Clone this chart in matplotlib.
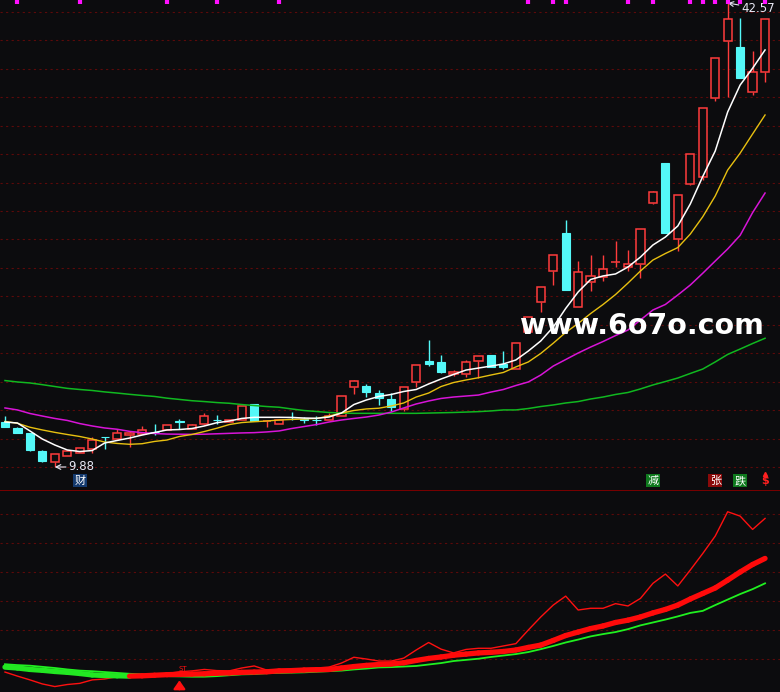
import numpy as np
import matplotlib
matplotlib.use("Agg")
import matplotlib.pyplot as plt
import matplotlib.transforms as mtransforms
from matplotlib.collections import LineCollection

plt.rcParams['font.family'] = ['DejaVu Sans', 'Noto Sans CJK SC']

# ---------------- data ----------------
open_ = [13.07, 12.61, 12.25, 11.01, 10.21, 10.68, 10.89, 11.15, 11.99, 11.85,
         12.13, 12.20, 12.38, 12.49, 13.10, 12.56, 12.89, 13.20, 13.05, 13.19,
         14.32, 13.12, 12.91, 13.39, 13.24, 13.19, 13.19, 13.47, 15.50, 15.59,
         15.07, 14.67, 13.97, 15.85, 17.35, 17.26, 16.43, 16.41, 17.37, 17.77,
         17.14, 16.78, 19.39, 21.48, 23.69, 26.39, 21.17, 22.89, 23.29, 24.30,
         23.95, 24.16, 28.46, 31.28, 25.92, 29.80, 30.33, 35.86, 39.91, 39.45,
         36.32, 37.69]
high = [13.47, 12.68, 12.30, 11.08, 10.78, 11.05, 11.22, 11.97, 11.99, 12.54,
        12.44, 12.77, 12.89, 12.85, 13.24, 12.88, 13.66, 13.54, 13.20, 14.20,
        14.34, 13.16, 13.22, 13.78, 13.40, 13.47, 13.71, 14.90, 16.01, 15.73,
        15.30, 15.07, 15.52, 17.06, 18.83, 17.77, 16.71, 17.42, 17.70, 17.79,
        18.05, 18.60, 20.45, 22.56, 24.84, 27.28, 24.39, 24.82, 24.82, 25.80,
        25.17, 26.65, 29.29, 31.30, 29.06, 31.95, 35.17, 38.69, 42.57, 41.49,
        39.19, 41.44]
low = [12.70, 12.25, 11.03, 10.25, 9.88, 10.66, 10.87, 10.89, 11.13, 11.83,
       11.31, 12.20, 12.13, 12.47, 12.56, 12.54, 12.87, 12.91, 13.04, 13.17,
       13.12, 12.72, 12.89, 13.19, 12.98, 12.84, 13.17, 13.45, 15.00, 14.83,
       14.25, 13.85, 13.85, 15.54, 17.02, 16.48, 16.31, 16.20, 16.17, 16.90,
       16.76, 16.76, 19.30, 20.82, 22.70, 22.33, 21.15, 22.28, 23.00, 23.99,
       23.69, 23.22, 28.44, 26.37, 25.12, 29.78, 30.10, 35.69, 35.97, 37.29,
       36.09, 37.02]
close = [12.72, 12.30, 11.08, 10.32, 10.78, 11.01, 11.20, 11.78, 11.96, 12.30,
         12.30, 12.49, 12.36, 12.82, 13.08, 12.84, 13.47, 13.19, 13.19, 14.18,
         13.14, 13.15, 13.19, 13.38, 13.22, 13.18, 13.47, 14.88, 15.94, 15.19,
         14.72, 14.13, 15.50, 17.04, 17.14, 16.59, 16.59, 17.26, 17.68, 16.95,
         16.93, 18.59, 20.43, 22.54, 24.82, 22.35, 23.62, 23.36, 23.81, 24.32,
         24.16, 26.63, 29.27, 26.39, 29.04, 31.93, 35.15, 38.67, 41.42, 37.31,
         37.69, 41.42]

ma_white = [13.05, 12.98, 12.42, 11.85, 11.43, 11.08, 10.97, 11.04, 11.57, 11.75,
            11.92, 12.13, 12.31, 12.49, 12.52, 12.59, 12.77, 13.00, 13.12, 13.30,
            13.38, 13.38, 13.38, 13.37, 13.33, 13.31, 13.40, 13.68, 14.28, 14.60,
            14.85, 14.99, 15.20, 15.34, 15.73, 16.08, 16.40, 16.71, 16.85, 16.99,
            17.14, 17.42, 18.05, 18.76, 19.74, 21.05, 22.21, 23.09, 23.34, 23.48,
            23.97, 24.67, 25.52, 26.08, 26.86, 28.41, 30.35, 32.14, 34.89, 36.79,
            37.97, 39.26]
ma_yellow = [13.09, 12.96, 12.68, 12.49, 12.32, 12.17, 12.03, 11.85, 11.64, 11.54,
             11.48, 11.52, 11.68, 11.78, 12.03, 12.17, 12.38, 12.61, 12.87, 13.01,
             13.07, 13.12, 13.19, 13.23, 13.26, 13.30, 13.47, 13.68, 13.86, 13.97,
             14.02, 14.18, 14.39, 14.81, 15.09, 15.55, 15.83, 16.01, 16.17, 16.36,
             16.54, 16.93, 17.28, 17.88, 18.60, 19.36, 19.99, 20.69, 21.33, 22.03,
             22.84, 23.69, 24.46, 24.92, 25.34, 26.29, 27.51, 28.97, 30.80, 31.99,
             33.34, 34.68]
ma_magenta = [14.04, 13.90, 13.65, 13.47, 13.30, 13.16, 12.94, 12.77, 12.63, 12.54,
              12.39, 12.30, 12.24, 12.20, 12.19, 12.18, 12.19, 12.22, 12.25, 12.28,
              12.30, 12.35, 12.42, 12.59, 12.73, 12.87, 13.05, 13.19, 13.30, 13.40,
              13.54, 13.75, 14.04, 14.32, 14.53, 14.71, 14.81, 14.88, 14.95, 15.16,
              15.34, 15.62, 15.87, 16.36, 16.99, 17.45, 17.91, 18.33, 18.72, 19.14,
              19.53, 20.24, 20.94, 21.33, 22.00, 22.70, 23.53, 24.39, 25.24, 26.20,
              27.80, 29.18]
ma_green = [15.97, 15.87, 15.80, 15.68, 15.55, 15.42, 15.34, 15.27, 15.17, 15.09,
            15.00, 14.92, 14.85, 14.73, 14.64, 14.55, 14.49, 14.42, 14.37, 14.28,
            14.21, 14.14, 14.09, 13.97, 13.86, 13.79, 13.72, 13.68, 13.66, 13.66,
            13.66, 13.66, 13.66, 13.66, 13.68, 13.70, 13.72, 13.75, 13.78, 13.83,
            13.90, 13.90, 14.00, 14.14, 14.25, 14.39, 14.49, 14.67, 14.81, 14.99,
            15.13, 15.38, 15.66, 15.90, 16.15, 16.47, 16.78, 17.28, 17.81, 18.19,
            18.58, 18.95]

ind_fast = [0.55, 0.41, 0.28, 0.14, 0.05, 0.12, 0.16, 0.28, 0.31, 0.39,
            0.41, 0.46, 0.48, 0.50, 0.56, 0.59, 0.64, 0.60, 0.59, 0.69,
            0.76, 0.62, 0.64, 0.64, 0.67, 0.69, 0.72, 0.86, 1.06, 1.00,
            0.93, 0.93, 1.03, 1.31, 1.57, 1.34, 1.21, 1.33, 1.37, 1.37,
            1.45, 1.53, 2.00, 2.45, 2.86, 3.17, 2.69, 2.75, 2.75, 2.91,
            2.83, 3.09, 3.61, 3.93, 3.52, 4.07, 4.64, 5.24, 6.08, 5.93,
            5.47, 5.85]
ind_mid = [0.72, 0.69, 0.64, 0.61, 0.57, 0.54, 0.50, 0.45, 0.43, 0.42,
           0.41, 0.42, 0.44, 0.46, 0.47, 0.48, 0.49, 0.51, 0.52, 0.54,
           0.55, 0.56, 0.59, 0.60, 0.62, 0.63, 0.64, 0.69, 0.74, 0.78,
           0.81, 0.83, 0.87, 0.95, 1.02, 1.07, 1.13, 1.17, 1.21, 1.23,
           1.26, 1.31, 1.40, 1.48, 1.64, 1.81, 1.93, 2.05, 2.14, 2.26,
           2.34, 2.45, 2.59, 2.71, 2.86, 3.07, 3.26, 3.45, 3.72, 4.00,
           4.26, 4.47]
ind_slow = [0.82, 0.79, 0.77, 0.73, 0.69, 0.64, 0.60, 0.58, 0.55, 0.52,
            0.49, 0.47, 0.44, 0.41, 0.40, 0.39, 0.39, 0.41, 0.44, 0.47,
            0.48, 0.51, 0.52, 0.53, 0.54, 0.56, 0.58, 0.60, 0.64, 0.67,
            0.71, 0.72, 0.74, 0.76, 0.81, 0.86, 0.93, 0.97, 1.01, 1.07,
            1.12, 1.17, 1.24, 1.34, 1.45, 1.57, 1.67, 1.78, 1.86, 1.93,
            2.03, 2.16, 2.26, 2.36, 2.47, 2.59, 2.66, 2.86, 3.05, 3.24,
            3.41, 3.61]

top_marks = [1, 6, 13, 17, 22, 42, 44, 45, 50, 52, 55, 56, 57, 58, 59, 61]
low_idx, low_val = 4, 9.88
high_idx, high_val = 58, 42.57
buy_signal_idx = 14
tags = [(6, '财', '#143a6e', 'white'), (52, '减', '#0f7a1e', 'white'),
        (57, '张', '#8a0a0a', 'white'), (59, '跌', '#0f7a1e', 'white')]

# ---------------- style ----------------
BG = '#0c0c0e'
RED = '#ff3c3c'
CYAN = '#54f8f8'
GRID = '#5c0a0a'

W, H = 780, 692
fig = plt.figure(figsize=(W / 100, H / 100), dpi=100, facecolor=BG)
ax = fig.add_axes([0, 203 / H, 1, 489 / H], facecolor=BG)
ax2 = fig.add_axes([0, 0, 1, 202 / H], facecolor=BG)

for a in (ax, ax2):
    for s in a.spines.values():
        s.set_visible(False)
    a.set_xticks([])
    a.set_yticks([])
    a.set_xlim(-0.40, 62.2)

ax.set_ylim(8.33, 42.78)
ax2.set_ylim(-0.138, 6.83)

# grid
for g in np.linspace(9.88, 41.94, 17):
    ax.axhline(g, color=GRID, lw=0.8, ls=(0, (2, 3)), zorder=0)
for g in range(1, 7):
    ax2.axhline(g, color=GRID, lw=0.8, ls=(0, (2, 3)), zorder=0)
ax2.axhline(6.83, color='#7a0000', lw=1.4, zorder=1)

# ---------------- candles ----------------
x = np.arange(len(open_))
o = np.array(open_); c = np.array(close); hi = np.array(high); lo = np.array(low)
up = c >= o
body_lo = np.minimum(o, c)
body_hi = np.maximum(o, c)
colors = np.where(up, RED, CYAN)
ax.vlines(x, body_hi, hi, colors=colors, lw=1.0, zorder=2)
ax.vlines(x, lo, body_lo, colors=colors, lw=1.0, zorder=2)
ax.bar(x[up], (body_hi - body_lo)[up], bottom=body_lo[up], width=0.66,
       facecolor=BG, edgecolor=RED, linewidth=1.1, zorder=3)
ax.bar(x[~up], (body_hi - body_lo)[~up], bottom=body_lo[~up], width=0.66,
       facecolor=CYAN, edgecolor=CYAN, linewidth=0.8, zorder=3)

# moving averages
ax.plot(x, ma_green, color='#10b820', lw=1.1, zorder=4)
ax.plot(x, ma_magenta, color='#d814d8', lw=1.1, zorder=4)
ax.plot(x, ma_yellow, color='#e8c010', lw=1.0, zorder=4)
ax.plot(x, ma_white, color='#ffffff', lw=1.1, zorder=4)

# top magenta marks
tb = mtransforms.blended_transform_factory(ax.transData, ax.transAxes)
for m in top_marks:
    ax.plot([m, m], [1.0, 0.992], color='#ff10ff', lw=3, transform=tb,
            solid_capstyle='butt', zorder=6)

# extreme labels
ax.annotate('9.88', xy=(low_idx, low_val), xytext=(10, 0), textcoords='offset points',
            color='#e8e8f4', fontsize=8.5, ha='left', va='center',
            arrowprops=dict(arrowstyle='->', color='#e8e8f4', lw=0.8,
                            shrinkA=0, shrinkB=0))
ax.annotate('42.57', xy=(high_idx, high_val), xytext=(10, -4), textcoords='offset points',
            color='#e8e8f4', fontsize=8.5, ha='left', va='center',
            arrowprops=dict(arrowstyle='->', color='#e8e8f4', lw=0.8,
                            shrinkA=0, shrinkB=0))

# watermark
ax.text(0.823, 0.333, 'www.6o7o.com', transform=ax.transAxes, color='white',
        fontsize=20.5, fontweight='bold', ha='center', va='center', zorder=8)

# tags
for ti, ch, bgc, fc in tags:
    ax.text(ti, 0.017, ch, transform=tb, color=fc, fontsize=8,
            family=['Noto Sans CJK SC', 'DejaVu Sans'], ha='center', va='center',
            bbox=dict(boxstyle='square,pad=0.12', fc=bgc, ec='none'), zorder=7)
ax.text(61, 0.017, '$', transform=tb, color='#ff2020', fontsize=8, fontweight='bold',
        ha='center', va='center', zorder=7)
ax.plot([61], [0.03], marker='^', color='#ff2020', ms=3, transform=tb, zorder=7)

# ---------------- lower indicator ----------------
xi = np.arange(len(ind_fast))
ax2.plot(xi, ind_fast, color='#ff1010', lw=1.0, zorder=3)
ax2.plot(xi, ind_slow, color='#20f020', lw=1.3, zorder=3)
mid = np.array(ind_mid)
pts = np.column_stack([xi, mid]).reshape(-1, 1, 2)
segs = np.concatenate([pts[:-1], pts[1:]], axis=1)
seg_col = np.where(np.diff(mid) >= 0, '#ff0a0a', '#22e822')
ax2.add_collection(LineCollection(segs, colors=seg_col, linewidths=3.8,
                                  capstyle='round', zorder=4))

# buy signal arrow
ax2.annotate('', xy=(buy_signal_idx, 0.36), xytext=(buy_signal_idx, -0.14),
             arrowprops=dict(arrowstyle='-|>,head_width=0.35,head_length=0.5',
                             color='#ff1010', lw=1.6), zorder=6)
ax2.text(buy_signal_idx + 0.3, 0.66, 'ST', color='#ff1010', fontsize=5,
         ha='center', va='center', zorder=6)

fig.savefig('out.png', dpi=100, facecolor=BG)
